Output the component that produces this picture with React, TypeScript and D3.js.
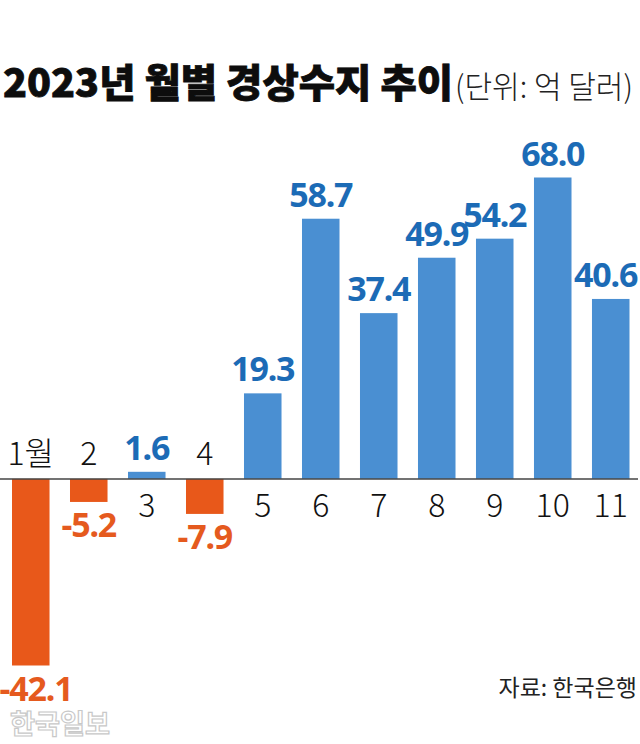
import React from "react";
import * as d3 from "d3";

const months = ["1월", "2", "3", "4", "5", "6", "7", "8", "9", "10", "11"];
const values = [-42.1, -5.2, 1.6, -7.9, 19.3, 58.7, 37.4, 49.9, 54.2, 68.0, 40.6];
const valueLabels = ["-42.1", "-5.2", "1.6", "-7.9", "19.3", "58.7", "37.4", "49.9", "54.2", "68.0", "40.6"];
const titleText = "2023년 월별 경상수지 추이";
const unitText = "(단위: 억 달러)";
const sourceText = "자료: 한국은행";
const brandText = "한국일보";

const W = 640;
const H = 744;
const BLUE = "#4a8fd2";
const BLUE_TEXT = "#1c6bb6";
const ORANGE = "#e8581a";
const ORANGE_TEXT = "#e55a1e";
const KR = "'Noto Sans CJK KR', 'Noto Sans', sans-serif";
const NUM = "'Noto Sans', 'Roboto', sans-serif";

export default function App() {
  const x = d3.scaleBand<string>().domain(months).range([12, 629.5]).paddingInner(0.353).paddingOuter(0);
  const y = d3.scaleLinear().domain([-42.1, 68]).range([665.5, 177.5]);
  const y0 = y(0);
  const bw = x.bandwidth();

  return (
    <svg width={W} height={H} style={{ position: "absolute", left: 0, top: 0, background: "#fff" }}>
      <rect x={0} y={0} width={W} height={H} fill="#fff" />
      <text x={3} y={97} fontFamily={KR} fontWeight={900} fontSize={39} fill="#0d0d0d"
        stroke="#0d0d0d" strokeWidth={0.8}
        textLength={450} lengthAdjust="spacingAndGlyphs">{titleText}</text>
      <text x={455} y={98} fontFamily={KR} fontWeight={300} fontSize={31} fill="#222"
        textLength={178} lengthAdjust="spacingAndGlyphs">{unitText}</text>

      {values.map((v, i) => {
        const m = months[i];
        const bx = x(m) as number;
        const top = Math.min(y(v), y0);
        const h = Math.abs(y(v) - y0);
        const pos = v >= 0;
        const cx = bx + bw / 2;
        const hw = valueLabels[i].length * 7.6;
        const lx = Math.max(hw - 2, Math.min(cx, W - 4 - hw));
        return (
          <g key={m}>
            <rect x={bx} y={top} width={bw} height={h} fill={pos ? BLUE : ORANGE} />
            <text x={lx} y={pos ? y(v) - 12 : y(v) + 35} textAnchor="middle" fontFamily={NUM}
              fontWeight={700} fontSize={34} letterSpacing={-1.2} fill={pos ? BLUE_TEXT : ORANGE_TEXT}>
              {valueLabels[i]}
            </text>
            <text x={cx} y={pos ? y0 + 38 : y0 - 14} textAnchor="middle" fontFamily={KR}
              fontWeight={300} fontSize={32} fill="#111">
              {m}
            </text>
          </g>
        );
      })}

      <line x1={0} x2={638} y1={y0} y2={y0} stroke="#444" strokeWidth={1.5} />

      <text x={637} y={696} textAnchor="end" fontFamily={KR} fontWeight={400} fontSize={23} fill="#222">
        {sourceText}
      </text>
      <text x={10} y={734} fontFamily={KR} fontWeight={700} fontSize={27} fill="#fff" stroke="#c8c8c8"
        strokeWidth={1.2} textLength={100} lengthAdjust="spacingAndGlyphs">{brandText}</text>
    </svg>
  );
}
